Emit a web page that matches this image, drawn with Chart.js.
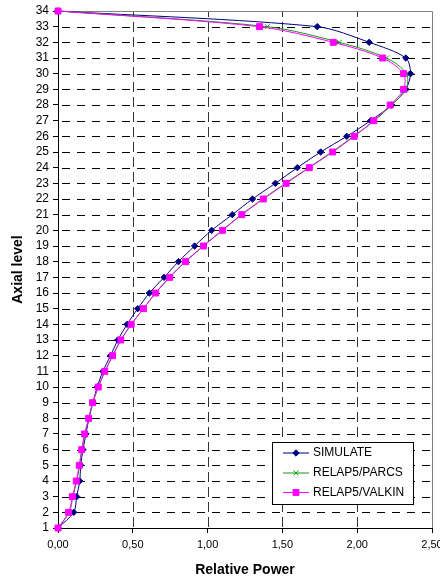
<!DOCTYPE html>
<html>
<head>
<meta charset="utf-8">
<script src="https://cdn.jsdelivr.net/npm/chart.js@4/dist/chart.umd.min.js"></script>
<style>
  html, body { margin: 0; padding: 0; background: #fff; }
  #wrap { width: 440px; height: 581px; }
</style>
</head>
<body>
<div id="wrap"><canvas id="c" width="440" height="581"></canvas></div>
<script>
// Axial levels (bottom to top)
const levels = [1,2,3,4,5,6,7,8,9,10,11,12,13,14,15,16,17,18,19,20,21,22,23,24,25,26,27,28,29,30,31,32,33,34];

// Relative power per axial level
const simulate = [0.000,0.105,0.125,0.145,0.152,0.167,0.187,0.207,0.233,0.262,0.300,0.351,0.400,0.462,0.533,0.611,0.709,0.805,0.913,1.027,1.165,1.300,1.453,1.600,1.756,1.930,2.090,2.230,2.325,2.356,2.325,2.080,1.733,0.000];
const relap5Parcs = [0.000,0.075,0.100,0.125,0.145,0.160,0.180,0.207,0.233,0.270,0.315,0.366,0.421,0.490,0.571,0.652,0.745,0.850,0.970,1.097,1.225,1.368,1.520,1.675,1.830,1.975,2.115,2.230,2.325,2.330,2.196,1.880,1.400,0.000];
const relap5Valkin = [0.000,0.071,0.096,0.122,0.142,0.158,0.178,0.205,0.231,0.269,0.313,0.365,0.420,0.489,0.571,0.653,0.747,0.853,0.973,1.100,1.229,1.373,1.525,1.680,1.836,1.980,2.110,2.220,2.310,2.310,2.170,1.840,1.347,0.000];

const seriesNames = ['SIMULATE', 'RELAP5/PARCS', 'RELAP5/VALKIN'];
const xTicks = [0, 0.5, 1.0, 1.5, 2.0, 2.5];

const FONT = '"Liberation Sans", Arial, sans-serif';

function pairs(values) {
  return values.map((v, i) => ({ x: v, y: levels[i] }));
}

const series = [
  { label: seriesNames[0], data: pairs(simulate), color: '#000080', style: 'rectRot', radius: 3.2, order: 2 },
  { label: seriesNames[1], data: pairs(relap5Parcs), color: '#129a12', style: 'crossRot', radius: 3.5, order: 1 },
  { label: seriesNames[2], data: pairs(relap5Valkin), color: '#ff00ff', style: 'rect', radius: 4.2, order: 0 }
];

// Dashed grid inside the plot plus a solid grey frame on the top and right edges
const gridPlugin = {
  id: 'dashedGrid',
  beforeDatasetsDraw(chart) {
    const { ctx, chartArea: a, scales } = chart;
    const L = Math.round(a.left), R = Math.round(a.right);
    const T = Math.round(a.top), B = Math.round(a.bottom);
    ctx.save();
    ctx.lineWidth = 1;
    ctx.strokeStyle = '#000';
    ctx.setLineDash([8, 7]);
    ctx.lineDashOffset = -3;
    levels.forEach(v => {
      if (v === levels[0] || v === levels[levels.length - 1]) return;
      const y = Math.round(scales.y.getPixelForValue(v)) + 0.5;
      ctx.beginPath();
      ctx.moveTo(L + 1, y);
      ctx.lineTo(R, y);
      ctx.stroke();
    });
    ctx.strokeStyle = '#333';
    ctx.setLineDash([10, 5]);
    ctx.lineDashOffset = 0;
    xTicks.forEach(v => {
      if (v === xTicks[0] || v === xTicks[xTicks.length - 1]) return;
      const x = Math.round(scales.x.getPixelForValue(v)) + 0.5;
      ctx.beginPath();
      ctx.moveTo(x, B - 1);
      ctx.lineTo(x, T);
      ctx.stroke();
    });
    ctx.setLineDash([]);
    ctx.strokeStyle = '#808080';
    ctx.beginPath();
    ctx.moveTo(L + 0.5, T + 0.5);
    ctx.lineTo(R + 0.5, T + 0.5);
    ctx.lineTo(R + 0.5, B);
    ctx.stroke();
    ctx.restore();
  }
};

// Boxed legend inside the lower right of the plot
const boxLegend = {
  id: 'boxLegend',
  afterDraw(chart) {
    const { ctx } = chart;
    const bx = 272.5, by = 442.5, bw = 141, bh = 62;
    ctx.save();
    ctx.fillStyle = '#fff';
    ctx.fillRect(bx, by, bw, bh);
    ctx.strokeStyle = '#000';
    ctx.lineWidth = 1;
    ctx.strokeRect(bx, by, bw, bh);
    const rows = [453, 473, 492.5];
    series.forEach((s, i) => {
      const y = rows[i];
      ctx.strokeStyle = s.color;
      ctx.lineWidth = 1;
      ctx.beginPath();
      ctx.moveTo(283, y);
      ctx.lineTo(309, y);
      ctx.stroke();
      ctx.fillStyle = s.color;
      Chart.helpers.drawPoint(ctx, { pointStyle: s.style, radius: s.radius, borderWidth: 1 }, 296, y);
      ctx.fillStyle = '#000';
      ctx.font = '12px ' + FONT;
      ctx.textBaseline = 'middle';
      ctx.textAlign = 'left';
      ctx.fillText(s.label, 313, y);
    });
    ctx.restore();
  }
};

new Chart(document.getElementById('c'), {
  type: 'scatter',
  data: {
    datasets: series.map(s => ({
      label: s.label,
      data: s.data,
      showLine: true,
      tension: 0.3,
      borderColor: s.color,
      backgroundColor: s.color,
      borderWidth: 1,
      pointStyle: s.style,
      pointRadius: s.radius,
      pointHoverRadius: s.radius,
      pointBorderWidth: 1,
      pointBorderColor: s.color,
      pointBackgroundColor: s.color,
      order: s.order,
      clip: false
    }))
  },
  options: {
    responsive: false,
    animation: false,
    devicePixelRatio: 1,
    layout: { padding: { top: 11, right: 8, left: 0, bottom: 0 } },
    plugins: {
      legend: { display: false },
      tooltip: { enabled: false },
      title: { display: false }
    },
    scales: {
      x: {
        type: 'linear',
        min: 0,
        max: 2.5,
        afterBuildTicks(scale) { scale.ticks = xTicks.map(v => ({ value: v })); },
        afterFit(scale) { scale.height = 53; scale.paddingLeft = 0; scale.paddingRight = 0; },
        ticks: {
          color: '#000',
          font: { family: FONT, size: 11 },
          padding: 5,
          maxRotation: 0,
          callback: v => v.toFixed(2).replace('.', ',')
        },
        grid: {
          drawOnChartArea: false,
          color: '#000',
          tickColor: '#000',
          tickLength: 5,
          lineWidth: 1
        },
        border: { color: '#000', width: 1 },
        title: {
          display: true,
          text: 'Relative Power',
          color: '#000',
          font: { family: FONT, size: 14, weight: 'bold' },
          padding: { top: 0, bottom: 2 }
        }
      },
      y: {
        type: 'linear',
        min: 1,
        max: 34,
        afterBuildTicks(scale) { scale.ticks = levels.map(v => ({ value: v })); },
        afterFit(scale) { scale.width = 58; scale.paddingTop = 0; scale.paddingBottom = 0; },
        ticks: {
          color: '#000',
          font: { family: FONT, size: 12 },
          padding: 4,
          autoSkip: false,
          callback: v => String(v)
        },
        grid: {
          drawOnChartArea: false,
          color: '#000',
          tickColor: '#000',
          tickLength: 5,
          lineWidth: 1
        },
        border: { color: '#000', width: 1 },
        title: {
          display: true,
          text: 'Axial level',
          color: '#000',
          font: { family: FONT, size: 14, weight: 'bold' },
          padding: { top: 10, bottom: 0 }
        }
      }
    }
  },
  plugins: [gridPlugin, boxLegend]
});
</script>
</body>
</html>
